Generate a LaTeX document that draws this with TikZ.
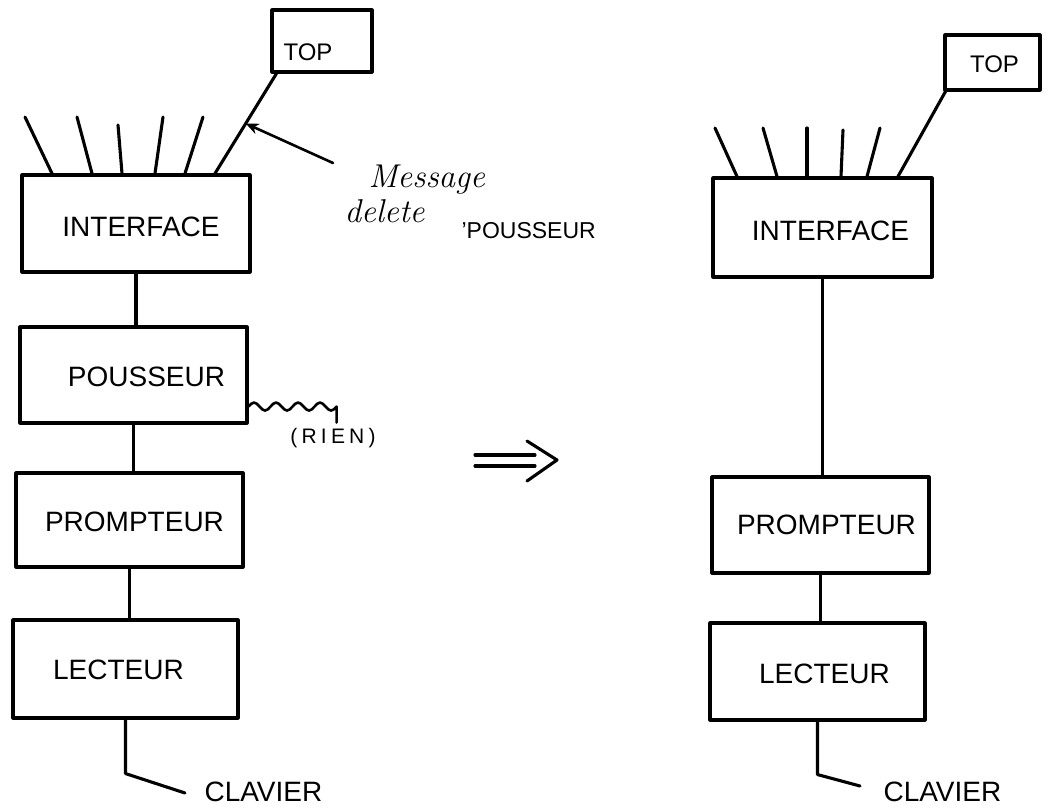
\documentclass[tikz,border=0pt]{standalone}
\usepackage{fontspec}
\setsansfont{Liberation Sans}
\usetikzlibrary{arrows.meta,calc}
\begin{document}
\begin{tikzpicture}[x=1pt,y=-1pt, line width=3.1pt, line cap=round, line join=round,
  box/.style={draw, rectangle, inner sep=0pt},
  lab/.style={inner sep=0pt, font=\sffamily\fontsize{28}{28}\selectfont},
  toplab/.style={inner sep=0pt, font=\sffamily\fontsize{24}{24}\selectfont},
  hand/.style={inner sep=0pt, anchor=base west, font=\itshape\fontsize{33}{33}\selectfont},
  small/.style={inner sep=0pt, font=\sffamily\fontsize{21}{21}\selectfont},
]
\useasboundingbox (0,0) rectangle (1051,809);

% ---------------- left column ----------------
\node[box, minimum width=100pt, minimum height=62pt] (topL) at (322,41) {};
\node[toplab] (topLt) at ([xshift=-14pt,yshift=-11pt]topL.center) {TOP};
\node[box, minimum width=228pt, minimum height=97pt] (intL) at (136,223.5) {};
\node[lab] (intLt) at ([xshift=5pt,yshift=-3pt]intL.center) {INTERFACE};
\node[box, minimum width=227pt, minimum height=96pt] (pouL) at (133.5,375) {};
\node[lab] (pouLt) at ([xshift=13pt,yshift=-2pt]pouL.center) {POUSSEUR};
\node[box, minimum width=227pt, minimum height=94pt] (proL) at (129.5,520) {};
\node[lab] (proLt) at ([xshift=5pt,yshift=-2pt]proL.center) {PROMPTEUR};
\node[box, minimum width=225pt, minimum height=98pt] (lecL) at (125.5,669) {};
\node[lab] (lecLt) at ([xshift=-7pt,yshift=-1pt]lecL.center) {LECTEUR};
\node[lab, anchor=west] (clavL) at (203,792) {CLAVIER};

% fan of lines on INTERFACE
\coordinate (fa1) at (25,117);
\coordinate (fa2) at (77,117);
\coordinate (fa3) at (118,125);
\coordinate (fa4) at (163,117);
\coordinate (fa5) at (203,117);
\draw (fa1) -- (52,0 |- intL.north);
\draw (fa2) -- (92,0 |- intL.north);
\draw (fa3) -- (122,0 |- intL.north);
\draw (fa4) -- (155,0 |- intL.north);
\draw (fa5) -- (185,0 |- intL.north);
\coordinate (tcA) at ([xshift=6pt]topL.south west);
\coordinate (tcB) at (215,0 |- intL.north);
\draw (tcA) -- (tcB);

% message arrow
\coordinate (msg) at (333,163);
\coordinate (msgtip) at ($(tcA)!0.5!(tcB)$);
\draw[line width=2.6pt, -{Stealth[length=13pt,width=11pt]}] (msg) -- (msgtip);
\node[hand] (msg1) at (367,187) {Message};
\node[hand] (msg2) at (343,222) {delete};
\node[inner sep=0pt, anchor=base west, font=\sffamily\fontsize{23}{23}\selectfont] (msg3) at (460,238) {'POUSSEUR};

% vertical connectors
\draw (intL.south) -- (intL.south |- pouL.north);
\draw (pouL.south) -- (pouL.south |- proL.north);
\draw (proL.south) -- (proL.south |- lecL.north);
\coordinate (cL) at (185,793);
\draw (lecL.south) -- ++(0,54) -- (cL);

% wavy line to (RIEN)
\coordinate (w0) at ([yshift=18pt]pouL.south east);
\draw[line width=2.6pt] (w0) sin ++(5.5,-4) cos ++(5.5,4) sin ++(5.5,4) cos ++(5.5,-4)
  sin ++(5.5,-4) cos ++(5.5,4) sin ++(5.5,4) cos ++(5.5,-4)
  sin ++(5.5,-4) cos ++(5.5,4) sin ++(5.5,4) cos ++(5.5,-4)
  sin ++(5.5,-4) cos ++(5.5,4) sin ++(5.5,4) cos ++(5.5,-4) coordinate (w1)
  -- ++(0,16) coordinate (w2);
\node[small, font=\sffamily\fontsize{21}{21}\selectfont\addfontfeature{LetterSpace=20}] (rien) at (333,438) {(RIEN)};

% implication arrow
\draw (475,455) -- (535,455);
\draw (475,466) -- (535,466);
\draw (527,441) -- (557,460) -- (527,481);

% ---------------- right column ----------------
\node[box, minimum width=95pt, minimum height=55pt] (topR) at (992.5,62.5) {};
\node[toplab] (topRt) at ([xshift=2pt,yshift=-2pt]topR.center) {TOP};
\node[box, minimum width=219pt, minimum height=99pt] (intR) at (822.5,227.5) {};
\node[lab] (intRt) at ([xshift=8pt,yshift=-3pt]intR.center) {INTERFACE};
\node[box, minimum width=217pt, minimum height=96pt] (proR) at (820.5,525) {};
\node[lab] (proRt) at ([xshift=6pt]proR.center) {PROMPTEUR};
\node[box, minimum width=215pt, minimum height=97pt] (lecR) at (817.5,671.5) {};
\node[lab] (lecRt) at ([xshift=7pt,yshift=-2pt]lecR.center) {LECTEUR};
\node[lab, anchor=west] (clavR) at (882,792) {CLAVIER};

\coordinate (fb1) at (715,128);
\coordinate (fb2) at (763,128);
\coordinate (fb3) at (807,128);
\coordinate (fb4) at (843,130);
\coordinate (fb5) at (880,128);
\draw (fb1) -- (737,0 |- intR.north);
\draw (fb2) -- (777,0 |- intR.north);
\draw (fb3) -- (807,0 |- intR.north);
\draw (fb4) -- (841,0 |- intR.north);
\draw (fb5) -- (867,0 |- intR.north);
\draw ([xshift=2pt]topR.south west) -- (898,0 |- intR.north);

\draw (intR.south) -- (intR.south |- proR.north);
\draw (proR.south) -- (proR.south |- lecR.north);
\coordinate (cR) at (860,786);
\draw (lecR.south) -- ++(0,53) -- (cR);
\end{tikzpicture}
\end{document}
